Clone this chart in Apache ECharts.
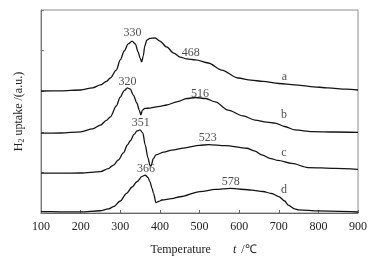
<!DOCTYPE html>
<html>
<head>
<meta charset="utf-8">
<script src="https://cdn.jsdelivr.net/npm/echarts@6/dist/echarts.min.js"></script>
<style>html,body{margin:0;padding:0;background:#fff;}#c{width:375px;height:263px;}</style>
</head>
<body>
<div id="c"></div>
<script>
// Temperatures (°C) and H2 uptake (a.u., curves stacked with offsets)
var aT = [100,150,200,230,250,265,275,290,300,310,320,330,338,345,350,354,358,362,367,375,388,400,417,435,451,468,490,522,556,597,630,660,700,741,780,825,870,900];
var aV = [60.1,60.2,60.6,61.6,63.1,64.8,66.5,70.4,75.4,79.8,83.3,84.7,83.3,79.3,76.4,74.4,77.3,82.3,85.2,86.0,86.2,84.7,81.8,78.8,76.8,75.9,75.4,73.9,70.4,66.5,65.5,64.8,63.8,63.1,62.3,61.6,61.0,60.6];
var bT = [100,150,200,230,250,265,275,290,300,310,318,325,333,342,348,352,356,362,375,400,417,445,468,490,516,540,572,610,640,670,691,715,741,784,840,900];
var bV = [39.3,39.4,40.0,41.4,43.3,45.6,47.4,52.7,57.1,60.3,61.6,61.1,58.1,54.2,50.7,48.3,50.7,51.5,51.7,52.5,53.2,54.9,56.4,56.9,56.4,54.7,50.7,47.8,45.8,44.8,44.3,42.6,40.9,40.1,39.9,39.7];
var cT = [100,150,200,250,270,283,295,308,318,325,335,342,350,357,363,370,375,378,383,390,410,430,460,500,523,565,619,640,657,680,698,733,774,842,900];
var cV = [19.6,19.6,19.7,20.4,21.9,23.6,26.1,29.6,33.5,35.5,38.7,40.4,40.9,39.4,33.5,27.1,23.4,23.2,26.6,28.6,30.0,31.0,32.0,33.3,33.7,33.2,31.9,30.5,28.6,26.8,25.9,24.4,22.4,22.0,21.5];
var dT = [100,150,200,249,270,283,300,316,330,342,355,363,370,375,380,384,390,397,405,430,451,501,540,578,632,660,682,700,715,724,740,750,800,900];
var dV = [0.7,0.6,0.6,1.1,2.0,3.1,5.9,9.7,12.8,15.4,18.0,18.7,17.5,15.4,12.3,9.7,5.1,5.7,6.4,7.1,8.0,10.5,11.6,12.1,11.3,10.6,9.6,8.1,5.9,3.9,2.0,1.5,1.0,0.5];
// annotation texts and their positions (T, a.u.)
var noteText = ['330','468','320','516','351','523','366','578','a','b','c','d'];
var noteT = [331,478,318,501,352,521,365,579,714,713,713,713];
var noteV = [88.8,79.1,64.5,58.9,44.3,36.8,21.7,15.4,67.0,48.3,29.4,11.3];
var xTicks = [100,200,300,400,500,600,700,800,900];

var FONT = "'Liberation Serif','Times New Roman',serif";
function pairs(t, v){ return t.map(function(x,i){ return [x, v[i]]; }); }
function lineSeries(t, v){
  return {type:'line', data: pairs(t,v), showSymbol:false, smooth:0.3, smoothMonotone:'x',
    lineStyle:{color:'#141414', width:1.3}, silent:true};
}
var chart = echarts.init(document.getElementById('c'), null, {renderer:'canvas'});
chart.setOption({
  animation:false,
  backgroundColor:'#fff',
  textStyle:{fontFamily:FONT},
  grid:{left:41, right:17, top:10, bottom:50, show:true, borderColor:'#8c8c8c', borderWidth:1},
  xAxis:{type:'value', min:xTicks[0], max:xTicks[xTicks.length-1], interval:100,
    axisLine:{show:true, lineStyle:{color:'#666', width:1}},
    axisTick:{show:true, inside:true, length:3, lineStyle:{color:'#666'}},
    axisLabel:{color:'#222', fontSize:12, fontFamily:FONT, margin:8},
    splitLine:{show:false},
    name:'{p|Temperature}{i|t}{n| /℃}', nameLocation:'middle', nameGap:31,
    nameTextStyle:{rich:{
      p:{fontSize:12, fontFamily:FONT, color:'#222', padding:[0,0,0,8]},
      n:{fontSize:12, fontFamily:FONT, color:'#222'},
      i:{fontSize:12, fontFamily:FONT, fontStyle:'italic', color:'#222', padding:[0,2,0,22]}
    }}
  },
  yAxis:{type:'value', min:0, max:100, interval:20,
    axisLine:{show:true, lineStyle:{color:'#777', width:1}},
    axisTick:{show:true, inside:true, length:3, lineStyle:{color:'#777'}},
    axisLabel:{show:false}, splitLine:{show:false},
    name:'{n|H}{s|2}{n| uptake /(a.u.)}', nameLocation:'middle', nameGap:15, nameRotate:90,
    nameTextStyle:{rich:{
      n:{fontSize:12, fontFamily:FONT, color:'#222', lineHeight:14},
      s:{fontSize:8, fontFamily:FONT, color:'#222', lineHeight:8, verticalAlign:'bottom', padding:[3,0,0,0]}
    }}
  },
  series:[
    lineSeries(aT,aV), lineSeries(bT,bV), lineSeries(cT,cV), lineSeries(dT,dV),
    {type:'scatter', symbolSize:0, silent:true,
      data: noteText.map(function(s,i){ return {name:s, value:[noteT[i], noteV[i]]}; }),
      label:{show:true, position:'inside', formatter:function(p){return p.name;},
        color:'#222', fontSize:12, fontFamily:FONT}
    }
  ]
});
</script>
</body>
</html>
